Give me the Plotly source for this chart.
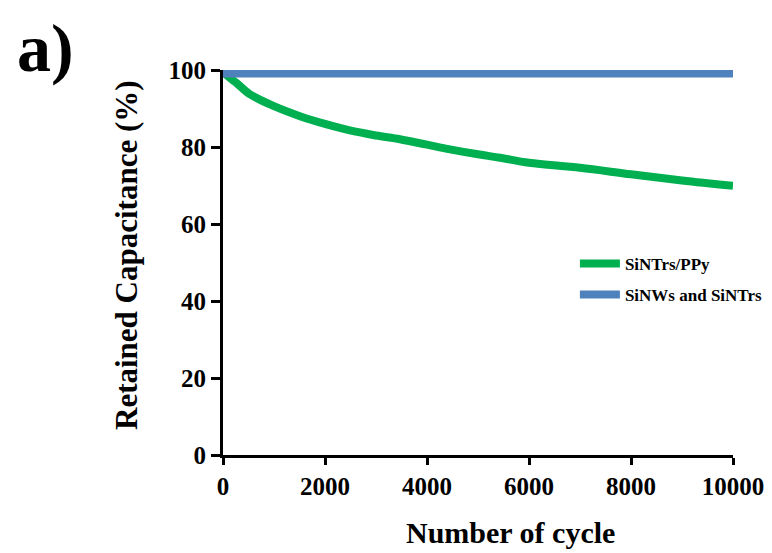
import plotly.graph_objects as go

cycles_ppy = [0, 130, 250, 527, 1000, 1509, 2000, 2487, 3000, 3469, 4000, 4451, 5000, 5434, 6000, 7000, 8000, 9000, 10000]
retained_ppy = [99.5, 98, 96.8, 93.7, 90.6, 88, 86, 84.3, 83, 82, 80.6, 79.4, 78.1, 77.2, 75.9, 74.6, 72.9, 71.3, 69.9]
cycles_nw = [0, 10000]
retained_nw = [99.1, 99.1]
x_ticks = [0, 2000, 4000, 6000, 8000, 10000]
x_ticklabels = ["0", "2000", "4000", "6000", "8000", "10000"]
y_ticks = [0, 20, 40, 60, 80, 100]

font_family = "Liberation Serif, Times New Roman, serif"

fig = go.Figure()
fig.add_trace(go.Scatter(x=cycles_ppy, y=retained_ppy, mode="lines", name="SiNTrs/PPy",
                         legendgroup="a",
                         line=dict(color="#00B050", width=8, shape="spline")))
fig.add_trace(go.Scatter(x=cycles_nw, y=retained_nw, mode="lines", name="SiNWs and SiNTrs",
                         legendgroup="b",
                         line=dict(color="#4F81BD", width=8)))

axis_common = dict(showline=True, linecolor="black", linewidth=3, ticks="outside",
                   tickwidth=3, tickcolor="black", showgrid=False, zeroline=False,
                   automargin=False, ticklabeloverflow="allow",
                   tickfont=dict(family=font_family, size=25, color="black", weight="bold"))

fig.update_layout(
    width=764, height=545, autosize=False,
    margin=dict(l=215, r=39, t=62, b=98, autoexpand=False),
    paper_bgcolor="white", plot_bgcolor="white",
    font=dict(family=font_family, color="black"),
    xaxis=dict(range=[0, 10000], tickvals=x_ticks, ticktext=x_ticklabels, ticklen=7,
               **axis_common),
    yaxis=dict(range=[0, 100], tickvals=y_ticks, ticklen=9,
               **axis_common),
    legend=dict(x=0.69, y=0.543, xanchor="left", yanchor="top", bgcolor="rgba(0,0,0,0)",
                font=dict(family=font_family, size=17, color="black", weight="bold"),
                itemwidth=40, tracegroupgap=6),
    showlegend=True,
)

fig.add_annotation(text="<b>Number of cycle</b>", x=0, y=0, xref="paper", yref="paper",
                   xshift=287, yshift=-77, xanchor="center", yanchor="middle",
                   showarrow=False, font=dict(family=font_family, size=30, color="black"))
fig.add_annotation(text="<b>Retained Capacitance (%)</b>", x=0, y=1, xref="paper", yref="paper",
                   xshift=-97, yshift=-185, xanchor="center", yanchor="middle", textangle=-90,
                   showarrow=False, font=dict(family=font_family, size=31, color="black"))
fig.add_annotation(text="<b>a)</b>", x=0, y=1, xref="paper", yref="paper",
                   xshift=-178, yshift=22, xanchor="center", yanchor="middle",
                   showarrow=False, font=dict(family=font_family, size=68, color="black"))

fig.write_html("out.html")
